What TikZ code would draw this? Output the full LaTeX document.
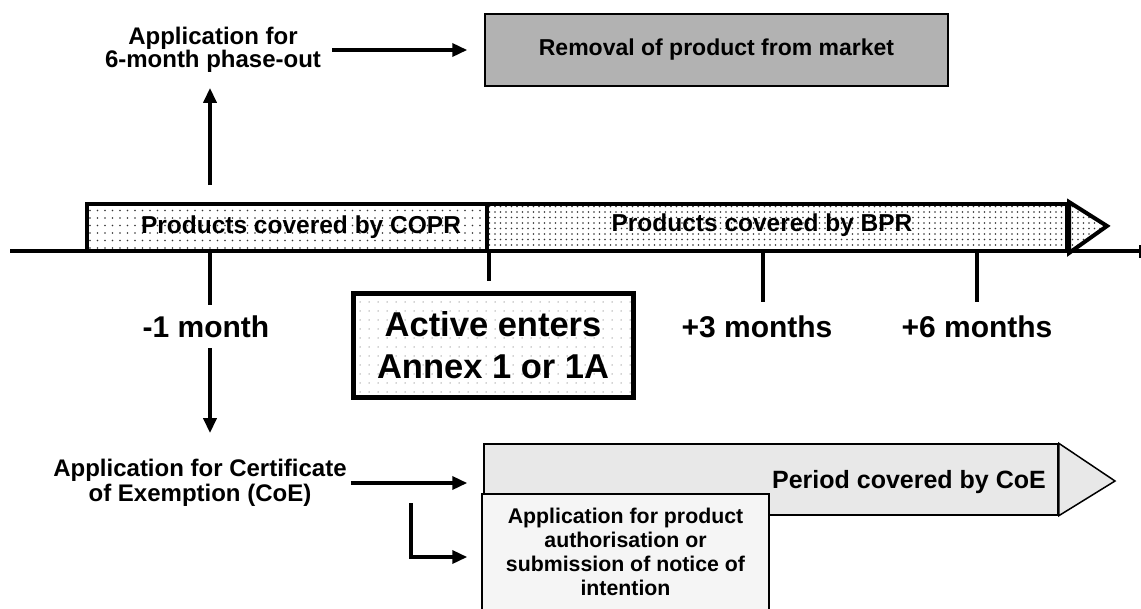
\documentclass[tikz,border=0pt]{standalone}
\usepackage{fontspec}
\setmainfont{Liberation Sans}
\usetikzlibrary{arrows.meta,patterns.meta}
\begin{document}
\begin{tikzpicture}[x=1pt,y=-1pt,
  lbl/.style={font=\bfseries, align=center, inner sep=0pt},
  arr/.style={line width=3.5pt, -{Triangle[length=15pt,width=13pt]}},
  tickline/.style={line width=4pt},
  band/.style={draw=black, line width=4pt, inner sep=0pt},
  sparsedots/.style={pattern={Dots[distance=7.5pt,radius=0.9pt]}, pattern color=black!80},
  densedots/.style={pattern={Dots[distance=5.5pt,radius=0.8pt]}, pattern color=black!80},
  faintdots/.style={pattern={Dots[distance=9pt,radius=0.75pt]}, pattern color=black!35},
  thinbox/.style={draw=black, line width=1.5pt, inner sep=0pt}
]
% canvas
\useasboundingbox (0,0) rectangle (1141,608);
\fill[white] (0,0) rectangle (1141,608);
\clip (0,0) rectangle (1141,608);

% ---------- top row ----------
\node[thinbox, fill=black!30, minimum width=463pt, minimum height=72pt,
      font=\bfseries\fontsize{23}{26}\selectfont] (rem) at (716.5,50) {Removal of product from market};
\node[lbl, font=\bfseries\fontsize{24}{23}\selectfont] (phase) at (213,50) {Application for\\6-month phase-out};

% ---------- timeline ----------
\coordinate (axL) at (10,251);
\coordinate (axR) at (1140,251);
\coordinate (tm1) at (210,251);
\coordinate (t3) at (763,251);
\coordinate (t6) at (977,251);
\draw[line width=4.5pt] (axL) -- (axR);
\draw[line width=2pt] (axR) ++(0,-6) -- ++(0,13);

\node[band, sparsedots, minimum width=400pt, minimum height=47pt] (copr) at (287,227.5) {};
\node[band, densedots, minimum width=580pt, minimum height=47pt] (bpr) at (777,227.5) {};
\draw[line width=4pt, densedots, line join=miter] (bpr.north east) -- (1107,226) -- (bpr.south east) -- cycle;
\node[lbl, font=\bfseries\fontsize{24.5}{24}\selectfont] (coprtxt) at (301,227) {Products covered by COPR};
\node[lbl, font=\bfseries\fontsize{24.5}{24}\selectfont] (bprtxt) at (762,225) {Products covered by BPR};

% tick labels
\node[lbl, font=\bfseries\fontsize{30}{30}\selectfont] (m1) at (206,327) {-1 month};
\node[lbl, font=\bfseries\fontsize{30}{30}\selectfont] (p3) at (757,327) {+3 months};
\node[lbl, font=\bfseries\fontsize{30}{30}\selectfont] (p6) at (977,327) {+6 months};

% ticks
\draw[tickline] (tm1) ++(0,2) -- ++(0,52);
\draw[tickline] (t3) -- ++(0,51);
\draw[tickline] (t6) -- ++(0,51);

% active substance box
\node[draw=black, line width=5pt, faintdots, minimum width=280pt, minimum height=104pt,
      inner sep=0pt, align=center, font=\bfseries\fontsize{34.5}{42}\selectfont] (act) at (493,345)
      {Active enters\\Annex 1 or 1A};
\draw[tickline, shorten >=10pt] (copr.south east) -- (copr.south east |- act.north);

% phase-out arrows
\draw[arr, shorten <=17pt, shorten >=15pt] (tm1 |- copr.north) -- (tm1 |- phase.south);
\draw[arr, shorten <=11pt, shorten >=17pt] (phase.east |- rem.west) -- (rem.west);

% ---------- bottom row ----------
\node[lbl, font=\bfseries\fontsize{24}{25}\selectfont] (coe) at (200,483) {Application for Certificate\\of Exemption (CoE)};
\draw[arr, shorten <=10pt, shorten >=26pt] (tm1 |- m1.south) -- (tm1 |- coe.north);

\node[thinbox, fill=black!9, minimum width=574pt, minimum height=71pt] (cband) at (771,479.5) {};
\draw[line width=1.5pt, fill=black!9, line join=miter] (cband.north east) -- (1115,481) -- (cband.south east) -- cycle;
\node[lbl, font=\bfseries\fontsize{25}{25}\selectfont] (period) at (909,482) {Period covered by CoE};

\node[thinbox, fill=black!4, minimum width=287pt, minimum height=116pt, align=center,
      font=\bfseries\fontsize{21.3}{24}\selectfont] (appbox) at (625.5,552)
      {Application for product\\authorisation or\\submission of notice of\\intention};

\coordinate (elb) at (411,503);
\draw[arr, shorten <=4pt, shorten >=16pt] (coe.east) -- (coe.east -| cband.west);
\draw[arr, shorten >=14pt] (elb) |- ([yshift=-5pt]appbox.west);
\end{tikzpicture}
\end{document}
